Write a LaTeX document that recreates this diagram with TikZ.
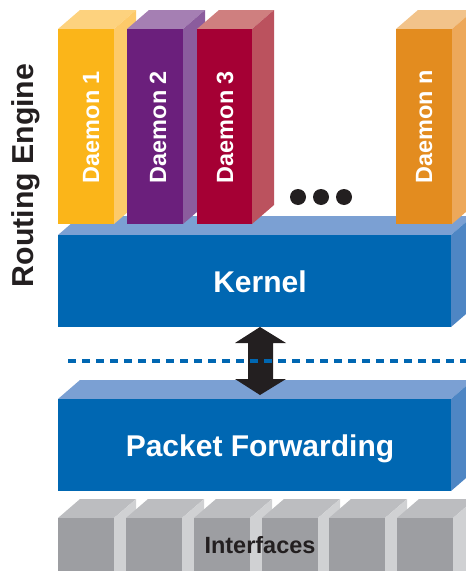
\documentclass[tikz,border=0pt]{standalone}
\usepackage{fontspec}
\setmainfont{Liberation Sans}
\definecolor{d1f}{HTML}{FBB519}\definecolor{d1t}{HTML}{FDD27E}\definecolor{d1s}{HTML}{FDCA6A}
\definecolor{d2f}{HTML}{6B1F7C}\definecolor{d2t}{HTML}{A57FB3}\definecolor{d2s}{HTML}{8B5C9D}
\definecolor{d3f}{HTML}{A50034}\definecolor{d3t}{HTML}{CF7F7F}\definecolor{d3s}{HTML}{BB525E}
\definecolor{dnf}{HTML}{E38C1F}\definecolor{dnt}{HTML}{F2C38A}\definecolor{dns}{HTML}{EDA85A}
\definecolor{kf}{HTML}{0067B2}\definecolor{kt}{HTML}{7BA0D3}\definecolor{ks}{HTML}{4E86C4}
\definecolor{gf}{HTML}{9D9EA2}\definecolor{gt}{HTML}{BCBDC0}\definecolor{gs}{HTML}{D0D1D3}
\definecolor{ink}{HTML}{231F20}
% cuboid: x1,y1(top of front),x2,y2(bottom of front),front,top,side
\newcommand\mycuboid[7]{%
  \fill[#6] (#1,#2) -- (#1+22,#2-19) -- (#3+22,#2-19) -- (#3,#2) -- cycle;
  \fill[#7] (#3,#2) -- (#3+22,#2-19) -- (#3+22,#4-19) -- (#3,#4) -- cycle;
  \fill[#5] (#1,#2) rectangle (#3,#4);}
\tikzset{
  dlabel/.style={text=white,font=\bfseries\fontsize{17.6}{20}\selectfont,rotate=90,inner sep=0pt,anchor=base},
  blabel/.style={text=white,font=\bfseries\fontsize{22.5}{26}\selectfont,inner sep=0pt,anchor=base},
  dot/.style={circle,fill=ink,minimum size=16*0.75pt,inner sep=0pt}
}
\begin{document}
\begin{tikzpicture}[x=0.75pt,y=-0.75pt]
\useasboundingbox (0,0) rectangle (466,571);
\clip (0,0) rectangle (466,571);
% interfaces
\foreach \xa in {58,126,194,262,329,397}{
  \mycuboid{\xa}{518}{\xa+56}{600}{gf}{gt}{gs}
}
\node[text=ink,font=\bfseries\fontsize{17.6}{20}\selectfont,inner sep=0pt,anchor=base] (ifc) at (260,553) {Interfaces};
% packet forwarding
\mycuboid{58}{399}{451}{491}{kf}{kt}{ks}
\node[blabel] (pf) at (260,456) {Packet Forwarding};
% kernel
\mycuboid{58}{235}{451}{327}{kf}{kt}{ks}
\node[blabel] (kern) at (260,292) {Kernel};
% daemons
\mycuboid{58}{29}{114}{224}{d1f}{d1t}{d1s}
\mycuboid{127}{29}{183}{224}{d2f}{d2t}{d2s}
\mycuboid{197}{29}{252}{224}{d3f}{d3t}{d3s}
\mycuboid{396}{29}{452}{224}{dnf}{dnt}{dns}
\node[dlabel] (dm1) at (99,127) {Daemon 1};
\node[dlabel] (dm2) at (166,127) {Daemon 2};
\node[dlabel] (dm3) at (233,127) {Daemon 3};
\node[dlabel] (dmn) at (432,127) {Daemon n};
\node[dot] (p1) at (298,197) {};
\node[dot] (p2) at (321,197) {};
\node[dot] (p3) at (344,197) {};
% arrow
\fill[ink] (260,327) -- (286,343) -- (273,343) -- (273,379) -- (286,379) -- (260,395)
  -- (235,379) -- (248,379) -- (248,343) -- (235,343) -- cycle;
% dashed separator
\draw[kf,line width=3.2*0.75pt,dash pattern=on 8*0.75pt off 6*0.75pt] (68,361) -- (466,361);
% routing engine
\node[text=ink,font=\bfseries\fontsize{22.7}{26}\selectfont,rotate=90,inner sep=0pt,anchor=base] (re) at (33,175.5) {Routing Engine};
\end{tikzpicture}
\end{document}
